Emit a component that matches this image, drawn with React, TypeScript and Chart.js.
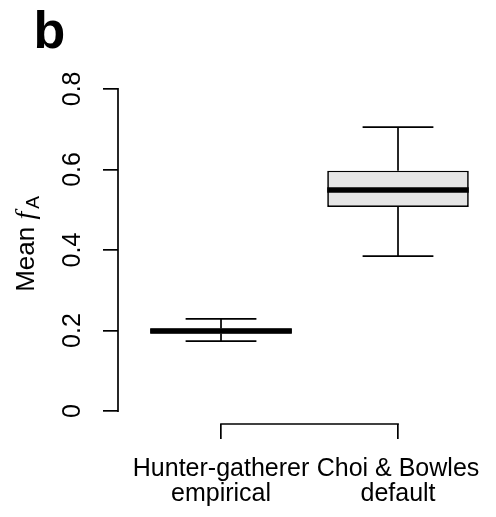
import React, { useEffect, useRef } from "react";
import { Chart, registerables } from "chart.js";

Chart.register(...registerables);

// ---- data ----
const categories: string[][] = [
  ["Hunter-gatherer", "empirical"],
  ["Choi & Bowles", "default"],
];
const positions = [1, 2];
const whiskerLow = [0.174, 0.385];
const q1 = [0.193, 0.507];
const median = [0.199, 0.549];
const q3 = [0.205, 0.597];
const whiskerHigh = [0.229, 0.705];
const yTicks = [0, 0.2, 0.4, 0.6, 0.8];
const yTickLabels = ["0", "0.2", "0.4", "0.6", "0.8"];
const panelLabel = "b";
const yLabelMain = "Mean ";
const yLabelSymbol = "f";
const yLabelSub = "A";

const SANS = '"Liberation Sans", Arial, Helvetica, sans-serif';
const LW = 1.7;

const boxPlugin = {
  id: "boxExtras",
  afterDatasetsDraw(chart: any) {
    const ctx = chart.ctx as CanvasRenderingContext2D;
    const xs = chart.scales.x;
    const ys = chart.scales.y;
    const meta = chart.getDatasetMeta(0);
    ctx.save();
    ctx.strokeStyle = "#000";
    ctx.lineCap = "butt";
    const seg = (x1: number, y1: number, x2: number, y2: number) => {
      ctx.beginPath();
      ctx.moveTo(x1, y1);
      ctx.lineTo(x2, y2);
      ctx.stroke();
    };
    positions.forEach((p, i) => {
      const bar = meta.data[i];
      const half = bar.width / 2;
      const cx = xs.getPixelForValue(p);
      const capHalf = half / 2;
      ctx.lineWidth = LW;
      const yHi = ys.getPixelForValue(whiskerHigh[i]);
      const yLo = ys.getPixelForValue(whiskerLow[i]);
      seg(cx, ys.getPixelForValue(q3[i]), cx, yHi);
      seg(cx, ys.getPixelForValue(q1[i]), cx, yLo);
      seg(cx - capHalf, yHi, cx + capHalf, yHi);
      seg(cx - capHalf, yLo, cx + capHalf, yLo);
      ctx.lineWidth = 5.5;
      const ym = ys.getPixelForValue(median[i]);
      seg(cx - half, ym, cx + half, ym);
    });
    ctx.restore();
  },
  afterDraw(chart: any) {
    const ctx = chart.ctx as CanvasRenderingContext2D;
    const xs = chart.scales.x;
    const ys = chart.scales.y;
    const area = chart.chartArea;
    ctx.save();
    ctx.strokeStyle = "#000";
    ctx.lineWidth = LW;
    ctx.lineCap = "square";
    // y axis line (R style: spans tick range only)
    ctx.beginPath();
    ctx.moveTo(area.left, ys.getPixelForValue(yTicks[0]));
    ctx.lineTo(area.left, ys.getPixelForValue(yTicks[yTicks.length - 1]));
    ctx.stroke();
    // x axis bracket
    ctx.beginPath();
    ctx.moveTo(xs.getPixelForValue(positions[0]), area.bottom);
    ctx.lineTo(xs.getPixelForValue(positions[positions.length - 1]), area.bottom);
    ctx.stroke();

    // panel label
    ctx.fillStyle = "#000";
    ctx.font = `bold 52px ${SANS}`;
    ctx.textBaseline = "alphabetic";
    ctx.textAlign = "left";
    ctx.fillText(panelLabel, 33.5, 48);

    // y axis title: Mean f_A
    const fMain = `26px ${SANS}`;
    const fSym = `italic 28px "Liberation Serif", "Times New Roman", serif`;
    const fSub = `19px ${SANS}`;
    ctx.font = fMain;
    const w1 = ctx.measureText(yLabelMain).width;
    ctx.font = fSym;
    const w2 = ctx.measureText(yLabelSymbol).width;
    ctx.font = fSub;
    const w3 = ctx.measureText(yLabelSub).width;
    const gap = 3;
    const total = w1 + w2 + gap + w3;
    ctx.translate(33.5, 244);
    ctx.rotate(-Math.PI / 2);
    let x = -total / 2;
    ctx.font = fMain;
    ctx.fillText(yLabelMain, x, 0);
    x += w1;
    ctx.font = fSym;
    ctx.fillText(yLabelSymbol, x, 0);
    x += w2 + gap;
    ctx.font = fSub;
    ctx.fillText(yLabelSub, x, 5);
    ctx.restore();
  },
};

export default function App() {
  const ref = useRef<HTMLCanvasElement>(null);
  useEffect(() => {
    if (!ref.current) return;
    Chart.defaults.font.family = SANS;
    const chart = new Chart(ref.current, {
      type: "bar",
      data: {
        datasets: [
          {
            data: positions.map((p, i) => ({ x: p, y: [q1[i], q3[i]] })) as any,
            backgroundColor: "#e5e5e5",
            borderColor: "#000",
            borderWidth: LW,
            borderSkipped: false,
            categoryPercentage: 1,
            barPercentage: 0.8,
          },
        ],
      },
      options: {
        animation: false,
        responsive: false,
        layout: { padding: { top: 76, right: 9.5, bottom: 0, left: 0 } },
        plugins: { legend: { display: false }, tooltip: { enabled: false }, title: { display: false } },
        scales: {
          x: {
            type: "linear",
            min: 0.418,
            max: 2.5,
            offset: false,
            afterBuildTicks: (s: any) => {
              s.ticks = positions.map((v) => ({ value: v }));
            },
            afterFit: (s: any) => {
              s.height = 93;
              s.paddingLeft = 0;
              s.paddingRight = 0;
            },
            ticks: {
              autoSkip: false,
              maxRotation: 0,
              minRotation: 0,
              padding: 18,
              color: "#000",
              font: { size: 25, lineHeight: 1.0 },
              callback: (v: any) => categories[positions.indexOf(Number(v))] ?? "",
            },
            grid: {
              display: true,
              offset: false,
              drawOnChartArea: false,
              drawTicks: true,
              tickLength: 15,
              color: "#000",
              lineWidth: LW,
            },
            border: { display: false },
          },
          y: {
            type: "linear",
            min: -0.032,
            max: 0.832,
            afterBuildTicks: (s: any) => {
              s.ticks = yTicks.map((v) => ({ value: v }));
            },
            afterFit: (s: any) => {
              s.width = 118;
              s.paddingTop = 0;
              s.paddingBottom = 0;
            },
            ticks: {
              autoSkip: false,
              minRotation: 90,
              maxRotation: 90,
              crossAlign: "center",
              padding: 13,
              color: "#000",
              font: { size: 25 },
              callback: (v: any) => {
                const idx = yTicks.findIndex((t) => Math.abs(t - Number(v)) < 1e-9);
                return idx >= 0 ? yTickLabels[idx] : "";
              },
            },
            grid: {
              display: true,
              drawOnChartArea: false,
              drawTicks: true,
              tickLength: 15,
              color: "#000",
              lineWidth: LW,
            },
            border: { display: false },
          },
        },
      } as any,
      plugins: [boxPlugin],
    });
    return () => chart.destroy();
  }, []);
  return (
    <div style={{ position: "absolute", left: 0, top: 0, width: 496, height: 517, background: "#fff" }}>
      <canvas ref={ref} width={496} height={517} style={{ display: "block" }} />
    </div>
  );
}
